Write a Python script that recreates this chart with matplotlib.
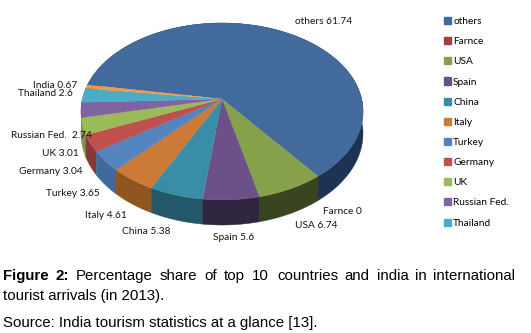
import numpy as np
import matplotlib
matplotlib.use("Agg")
import matplotlib.pyplot as plt
from matplotlib.patches import Patch

# Slices in drawing order (clockwise)
names = ["others", "Farnce", "USA", "Spain", "China", "Italy", "Turkey",
         "Germany", "UK", "Russian Fed.", "Thailand", "India"]
values = [61.74, 0, 6.74, 5.6, 5.38, 4.61, 3.65, 3.04, 3.01, 2.74, 2.6, 0.67]
value_text = ["61.74", "0", "6.74", "5.6", "5.38", "4.61", "3.65", "3.04",
              "3.01", "2.74", "2.6", "0.67"]
colors = ["#426a9c", "#9e413e", "#87a04a", "#6b5187", "#3a8da6", "#cc7a38",
          "#5484bd", "#bf504d", "#9bbb59", "#8064a2", "#4bacc6", "#f79646"]
wall_colors = ["#1d3354", "#5a2523", "#394521", "#31263f", "#22586a", "#8f5620",
               "#3f6a9c", "#8a3735", "#7d9648", "#5f4a7a", "#35798c", "#b06a30"]

# label position, pixels (left edge, vertical centre)
label_x = [295, 323, 295, 213, 122, 85, 46, 19, 42, 11, 18, 33]
label_y = [22, 212, 226, 237, 232, 215, 193, 172, 154, 135, 94, 85]

# 3d look of the pie
cx, cy = 222, 99
rx, ry = 139.6, 86.7
persp = 0.141
depth = 25
first_angle = 279.6


def project(theta, drop=0.0):
    # theta clockwise from 12 o'clock, degrees
    t = np.radians(theta)
    u, v = np.sin(t), -np.cos(t)
    s = 1 / (1 - persp * v)
    return cx + rx * u * s, cy + ry * v * s + drop * s / 1.16


fig = plt.figure(figsize=(5.31, 3.33), dpi=100)
ax = fig.add_axes([0, 0, 1, 1])
ax.set_xlim(0, 531)
ax.set_ylim(333, 0)
ax.axis("off")

sweeps = np.array(values) / sum(values) * 360
starts = first_angle + np.concatenate([[0], np.cumsum(sweeps)[:-1]])

# side wall, one piece per slice, back ones first
order = np.argsort(-np.cos(np.radians(starts + sweeps / 2)))
for i in order:
    if sweeps[i] == 0:
        continue
    th = np.linspace(starts[i], starts[i] + sweeps[i], max(int(sweeps[i]) * 2, 3))
    x1, y1 = project(th)
    x2, y2 = project(th[::-1], depth)
    ax.fill(np.r_[x1, x2], np.r_[y1, y2], color=wall_colors[i], lw=0.3)

# top face
for i in range(len(names)):
    if sweeps[i] == 0:
        continue
    th = np.linspace(starts[i], starts[i] + sweeps[i], max(int(sweeps[i]) * 2, 3))
    x, y = project(th)
    ax.fill(np.r_[cx, x], np.r_[cy, y], color=colors[i], lw=0.2)

for i in range(len(names)):
    ax.text(label_x[i], label_y[i], f"{names[i]} {value_text[i]}", fontsize=7.3,
            family="Lato", color="#111111", ha="left", va="center")
ax.texts[9].set_text("Russian Fed.  2.74")

# legend leaves India out, like the original
handles = [Patch(color=colors[i], label=names[i]) for i in range(11)]
ax.legend(handles=handles, loc="upper left", bbox_to_anchor=(441 / 531, 1 - 14 / 333),
          frameon=False, prop={"family": "Lato", "size": 7.3},
          handlelength=0.7, handleheight=0.7, handletextpad=0.2,
          labelspacing=1.09, borderpad=0, borderaxespad=0.3)

# caption, first line is justified so words get placed one by one
cap_words = ["Percentage", "share", "of", "top", "10", "countries", "and",
             "india", "in", "international"]
cap_x = [76, 160, 204, 224, 252, 277, 344, 377, 415, 433]
cap_font = dict(family="Liberation Sans", fontsize=10.8, color="black", va="baseline")
ax.text(3, 280, "Figure", fontweight="bold", **cap_font)
ax.text(55, 280, "2:", fontweight="bold", **cap_font)
for w, x in zip(cap_words, cap_x):
    ax.text(x, 280, w, **cap_font)
ax.text(3, 300, "tourist arrivals (in 2013).", **cap_font)
ax.text(3, 327, "Source: India tourism statistics at a glance [13].", **cap_font)

fig.savefig("out.png", dpi=100)
